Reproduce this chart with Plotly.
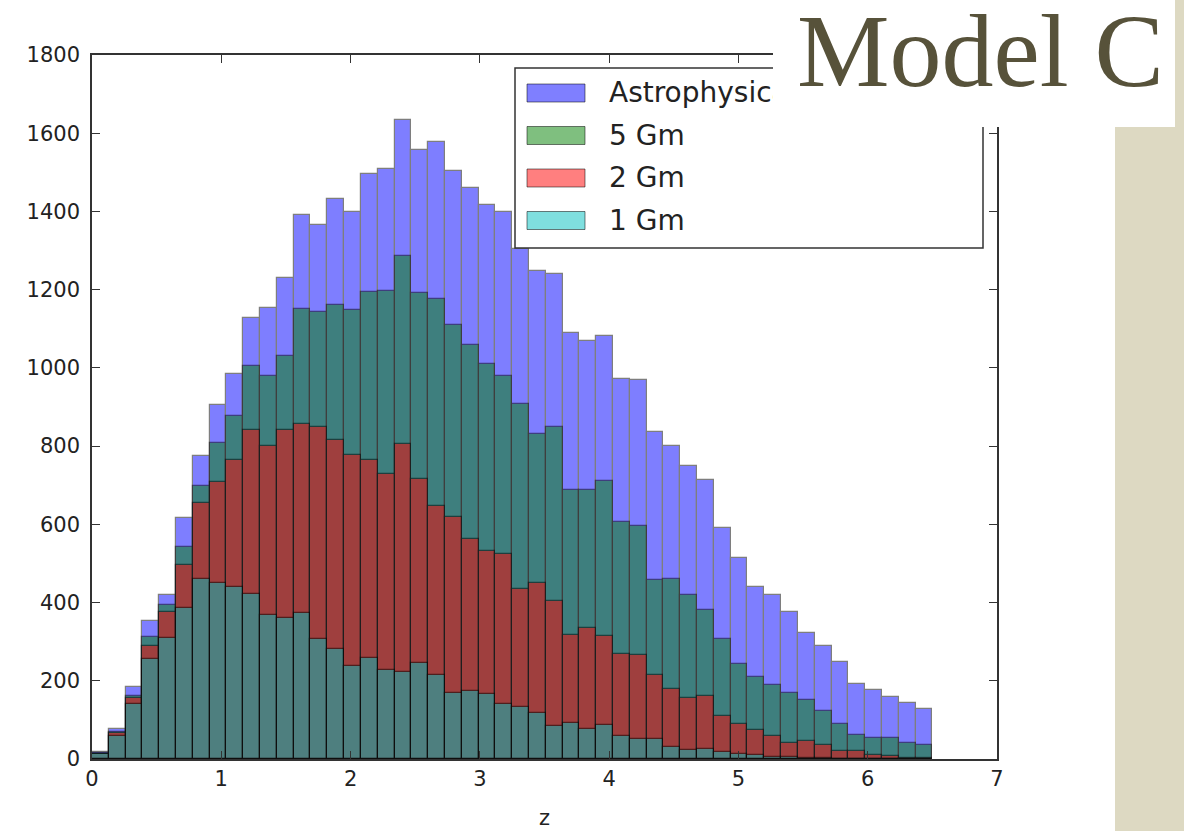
import numpy as np
import plotly.graph_objects as go

# ---------------- data ----------------
bin_width = 0.13
n_bins = 50

astrophysical = [18, 76, 185, 352, 420, 616, 775, 905, 985, 1127,
                 1152, 1230, 1392, 1366, 1432, 1398, 1496, 1508, 1635, 1556,
                 1578, 1503, 1460, 1416, 1398, 1305, 1247, 1240, 1090, 1068,
                 1082, 972, 968, 835, 801, 749, 714, 590, 514, 440,
                 420, 376, 323, 289, 247, 192, 176, 158, 143, 128]
gm5 = [16, 68, 162, 312, 395, 542, 698, 808, 876, 1005,
       980, 1031, 1151, 1144, 1162, 1149, 1193, 1197, 1285, 1192,
       1176, 1110, 1058, 1009, 979, 908, 832, 848, 688, 688,
       712, 606, 595, 457, 460, 419, 382, 308, 242, 209,
       190, 169, 152, 124, 89, 62, 54, 54, 40, 36]
gm2 = [14, 66, 156, 290, 377, 497, 655, 707, 764, 840,
       801, 840, 857, 849, 816, 777, 764, 728, 805, 717,
       646, 619, 562, 532, 524, 434, 450, 404, 317, 334,
       315, 268, 265, 214, 178, 155, 162, 110, 90, 74,
       60, 40, 46, 37, 20, 20, 11, 8, 3, 2]
gm1 = [12, 60, 140, 255, 310, 385, 461, 450, 439, 421,
       367, 361, 374, 306, 282, 239, 257, 228, 222, 245,
       216, 168, 175, 167, 140, 133, 118, 84, 91, 76,
       86, 59, 52, 51, 31, 22, 26, 19, 12, 10,
       6, 4, 3, 2, 1, 1, 0, 0, 0, 0]

series_names = ["Astrophysical", "5 Gm", "2 Gm", "1 Gm"]
series_values = [astrophysical, gm5, gm2, gm1]
series_rgb = [(0, 0, 255), (0, 128, 0), (255, 0, 0), (0, 191, 191)]

x_ticks = [0, 1, 2, 3, 4, 5, 6, 7]
y_ticks = [0, 200, 400, 600, 800, 1000, 1200, 1400, 1600, 1800]
x_title = "z"
overlay_title = "Model C"

# ---------------- figure ----------------
edges = np.arange(n_bins + 1) * bin_width
centers = (edges[:-1] + edges[1:]) / 2

W, H = 1184, 831
L, R, T, B = 92, 187, 55, 72
PW, PH = W - L - R, H - T - B


def px_x(px):
    return (px - L) / PW


def px_y(py):
    return (H - B - py) / PH


fig = go.Figure()
for name, vals, rgb in zip(series_names, series_values, series_rgb):
    fig.add_trace(go.Bar(
        x=centers, y=vals, width=bin_width, name=name,
        marker=dict(color="rgb(%d,%d,%d)" % rgb,
                    line=dict(color="black", width=1.2)),
        opacity=0.5, showlegend=False,
    ))

axis_common = dict(
    showline=True, linecolor="#333333", linewidth=1.5, mirror="ticks",
    ticks="inside", ticklen=8, tickwidth=1, tickcolor="#333333",
    showgrid=False, zeroline=False, automargin=False,
    tickfont=dict(family="DejaVu Sans", size=21, color="#222222"),
)

fig.update_layout(
    width=W, height=H,
    margin=dict(l=L, r=R, t=T, b=B, pad=0, autoexpand=False),
    paper_bgcolor="white", plot_bgcolor="white",
    barmode="overlay", bargap=0,
    xaxis=dict(range=[0, 7], tickvals=x_ticks, **axis_common,
               title=dict(text=x_title, standoff=20,
                          font=dict(family="DejaVu Sans", size=21, color="#222222"))),
    yaxis=dict(range=[0, 1800], tickvals=y_ticks, ticklabelstandoff=6, **axis_common),
)

shapes = []
annotations = []

# background texture strip on the right
shapes.append(dict(type="rect", xref="paper", yref="paper", layer="above",
                   x0=px_x(1115), x1=px_x(W + 2), y0=px_y(H + 2), y1=px_y(-2),
                   fillcolor="#ddd9c2", line=dict(width=0)))

# legend frame
lg_x0, lg_y0, lg_x1, lg_y1 = 515, 68, 983, 248
shapes.append(dict(type="rect", xref="paper", yref="paper", layer="above",
                   x0=px_x(lg_x0), x1=px_x(lg_x1), y0=px_y(lg_y1), y1=px_y(lg_y0),
                   fillcolor="white", line=dict(color="#333333", width=1.5)))
row_y0, row_step = 93, 42.5
for i, (name, rgb) in enumerate(zip(series_names, series_rgb)):
    cy = row_y0 + i * row_step
    shapes.append(dict(type="rect", xref="paper", yref="paper", layer="above",
                       x0=px_x(527), x1=px_x(585), y0=px_y(cy + 9), y1=px_y(cy - 9),
                       fillcolor="rgba(%d,%d,%d,0.5)" % rgb,
                       line=dict(color="rgba(0,0,0,0.5)", width=1)))
    annotations.append(dict(xref="paper", yref="paper", x=px_x(607), y=px_y(cy),
                            xanchor="left", yanchor="middle", showarrow=False,
                            text=name,
                            font=dict(family="DejaVu Sans", size=28, color="#222222")))

# white title box covering the top-right corner
annotations.append(dict(xref="paper", yref="paper", x=px_x(773), y=px_y(0),
                        xanchor="left", yanchor="top", showarrow=False,
                        text=" ", width=402, height=127, bgcolor="white",
                        borderpad=0, borderwidth=0))
annotations.append(dict(xref="paper", yref="paper", x=px_x(1166), y=px_y(50),
                        xanchor="right", yanchor="middle", showarrow=False,
                        text=overlay_title,
                        font=dict(family="Liberation Serif", size=104, color="#57523a")))

fig.update_layout(shapes=shapes, annotations=annotations)
fig.write_html("out.html")
